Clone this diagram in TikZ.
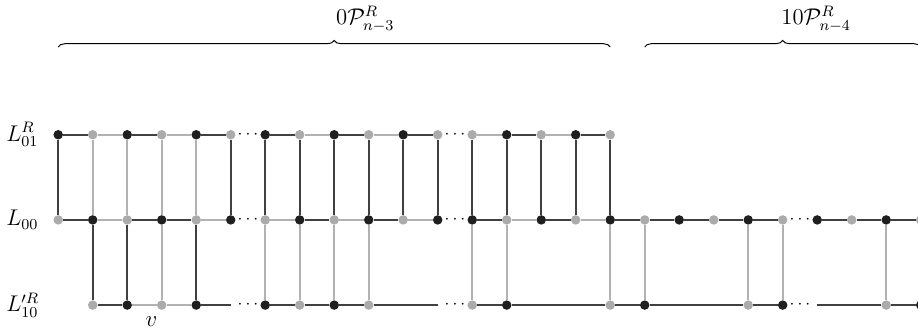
\documentclass[tikz,border=0pt]{standalone}
\usetikzlibrary{positioning,decorations.pathreplacing}

\begin{document}
\begin{tikzpicture}[x=0.64cm,y=1.58cm,
    bv/.style={circle,fill=black!88,inner sep=0pt,minimum size=5pt},
    gv/.style={circle,fill=black!33,inner sep=0pt,minimum size=5pt},
    dk/.style={draw=black!75,line width=1pt},
    lt/.style={draw=black!30,line width=1pt},
    dd/.style={inner sep=0pt,font=\small},
    lab/.style={anchor=west,font=\large}]
\useasboundingbox (-1.08cm,-2.08cm) rectangle (15.95cm,4.08cm);

% vertices, row L01
\foreach \i/\s in {1/bv,2/gv,3/bv,4/gv,5/bv,6/gv,7/bv,8/gv,9/bv,10/gv,11/bv,12/gv,
                   13/gv,14/bv,15/gv,16/bv,17/gv}
  \node[\s] (t\i) at (\i-1,1) {};
% vertices, row L00
\foreach \i/\s in {1/gv,2/bv,3/gv,4/bv,5/gv,6/bv,7/gv,8/bv,9/gv,10/bv,11/gv,12/bv,
                   13/bv,14/gv,15/bv,16/gv,17/bv,18/gv,19/bv,20/gv,21/bv,22/gv,
                   23/bv,24/gv,25/bv,26/gv}
  \node[\s] (m\i) at (\i-1,0) {};
% vertices, row L'10
\foreach \i/\s in {2/gv,3/bv,4/gv,5/bv,7/bv,8/gv,9/bv,10/gv,13/gv,14/bv,17/gv,18/bv,
                   21/gv,22/bv,25/gv,26/bv}
  \node[\s] (b\i) at (\i-1,-1) {};
\coordinate (b6) at (5,-1);
\coordinate (b12) at (11,-1);
\coordinate (b23) at (22,-1);

% horizontal edges
\foreach \a/\b in {1/2,3/4,5/6,7/8,9/10,11/12,14/15,16/17}
  \draw[dk] (t\a) -- (t\b);
\foreach \a/\b in {2/3,4/5,8/9,10/11,13/14,15/16}
  \draw[lt] (t\a) -- (t\b);
\foreach \a/\b in {1/2,3/4,4/5,8/9,10/11,13/14,15/16,17/18,18/19,19/20,20/21,21/22,
                   23/24,24/25,25/26}
  \draw[dk] (m\a) -- (m\b);
\foreach \a/\b in {2/3,5/6,7/8,9/10,11/12,14/15,16/17}
  \draw[lt] (m\a) -- (m\b);
\foreach \a/\b in {2/3,5/6,7/8,8/9,9/10,10/12,13/14,14/17,17/18,18/21,21/22,23/25,25/26}
  \draw[dk] (b\a) -- (b\b);
\foreach \a/\b in {3/4,4/5}
  \draw[lt] (b\a) -- (b\b);

% vertical edges
\foreach \i in {1,6,7,8,9,10,11,12,13,14,15,16,17}
  \draw[dk] (t\i) -- (m\i);
\foreach \i in {2,3,4,5}
  \draw[lt] (t\i) -- (m\i);
\foreach \i in {2,3,5}
  \draw[dk] (m\i) -- (b\i);
\foreach \i in {4,7,8,9,10,13,14,17,18,21,22,25}
  \draw[lt] (m\i) -- (b\i);

% dots
\foreach \r/\y in {t/1,m/0,b/-1} {
  \node[dd] (dots\r a) at (5.5,\y) {$\cdots$};
  \node[dd] (dots\r b) at (11.5,\y) {$\cdots$};
}
\node[dd] (dotsmc) at (21.5,0) {$\cdots$};
\node[dd] (dotsbc) at (21.5,-1) {$\cdots$};

% row labels
\node[lab] (lab01) at (-1.7,1) {$L^R_{01}$};
\node[lab] (lab00) at (-1.7,0) {$L_{00}$};
\node[lab] (lab10) at (-1.7,-1) {$L'^R_{10}$};
\node (vlab) [below=0pt of b4, xshift=-0.19cm, font=\large] {$v$};

% braces
\coordinate (br1l) at (0,2.03);
\coordinate (br1r) at (16,2.03);
\coordinate (br2l) at (17,2.03);
\coordinate (br2r) at (25,2.03);
\draw[decorate,decoration={brace,amplitude=3.5pt},line width=0.5pt] (br1l) -- (br1r);
\draw[decorate,decoration={brace,amplitude=3.5pt},line width=0.5pt] (br2l) -- (br2r);
\node[font=\large] (sub1) at (8.9,2.36) {$0\mathcal{P}^R_{n-3}$};
\node[font=\large] (sub2) at (21.97,2.36) {$10\mathcal{P}^R_{n-4}$};
\end{tikzpicture}
\end{document}
